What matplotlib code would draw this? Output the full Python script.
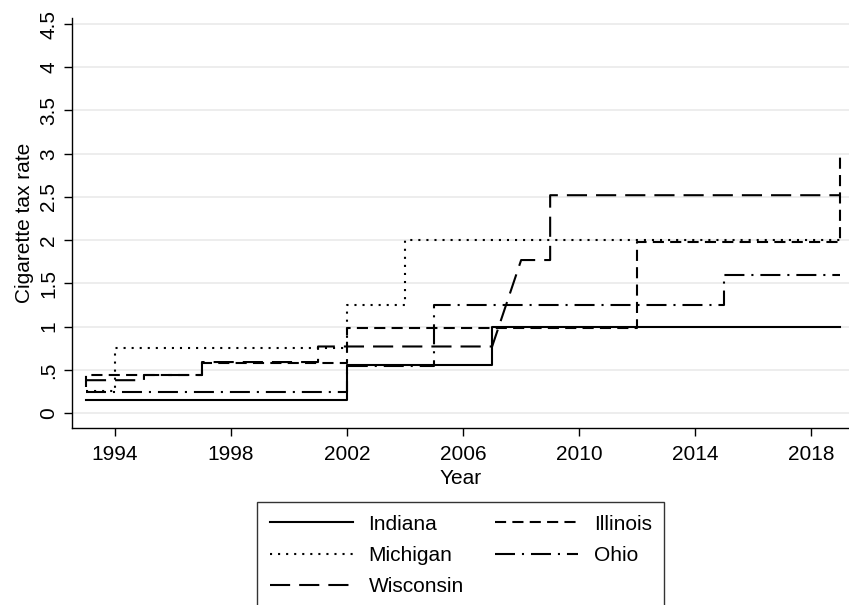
import matplotlib
matplotlib.use('Agg')
import matplotlib.pyplot as plt

plt.rcParams['font.family'] = ['Liberation Sans', 'DejaVu Sans']
plt.rcParams['lines.scale_dashes'] = False

# step series: (year, rate) points, duplicated years where the rate jumps
indiana_x = [1993, 2002, 2002, 2007, 2007, 2019]
indiana_y = [0.155, 0.155, 0.555, 0.555, 0.995, 0.995]

michigan_x = [1993, 1994, 1994, 2002, 2002, 2004, 2004, 2019]
michigan_y = [0.25, 0.25, 0.75, 0.75, 1.25, 1.25, 2.00, 2.00]

wisconsin_x = [1993, 1995, 1995, 1997, 1997, 2001, 2001, 2007, 2008, 2009, 2009, 2019]
wisconsin_y = [0.38, 0.38, 0.44, 0.44, 0.59, 0.59, 0.77, 0.77, 1.77, 1.77, 2.52, 2.52]

illinois_x = [1993, 1993, 1997, 1997, 2002, 2002, 2012, 2012, 2019, 2019]
illinois_y = [0.30, 0.44, 0.44, 0.58, 0.58, 0.98, 0.98, 1.98, 1.98, 2.98]

ohio_x = [1993, 2002, 2002, 2005, 2005, 2015, 2015, 2019]
ohio_y = [0.24, 0.24, 0.55, 0.55, 1.25, 1.25, 1.60, 1.60]

yticks = [0, 0.5, 1, 1.5, 2, 2.5, 3, 3.5, 4, 4.5]
ytick_labels = ['0', '.5', '1', '1.5', '2', '2.5', '3', '3.5', '4', '4.5']
xticks = [1994, 1998, 2002, 2006, 2010, 2014, 2018]

fs = 15

fig = plt.figure(figsize=(8.49, 6.05), dpi=100)
ax = fig.add_axes([72 / 849, 1 - 428 / 605, (849 - 72) / 849, (428 - 18) / 605])

lw = 1.5
ax.plot(indiana_x, indiana_y, color='black', lw=lw, label='Indiana')
ax.plot(michigan_x, michigan_y, color='black', lw=lw, linestyle=(0, (1.5, 4.3)), label='Michigan')
ax.plot(wisconsin_x, wisconsin_y, color='black', lw=lw, linestyle=(0, (14.5, 6.5)), label='Wisconsin')
ax.plot(illinois_x, illinois_y, color='black', lw=lw, linestyle=(0, (8, 4.5)), label='Illinois')
ax.plot(ohio_x, ohio_y, color='black', lw=lw, linestyle=(0, (14.4, 5, 1.5, 5)), label='Ohio')

ax.set_xlim(1992.52, 2019.3)
ax.set_ylim(-0.173, 4.57)
ax.set_yticks(yticks)
ax.set_yticklabels(ytick_labels, rotation=90, va='center')
ax.set_xticks(xticks)
for yv in yticks:
    ax.axhline(yv, color='#eaeaea', lw=1.2, zorder=0)

ax.spines['top'].set_visible(False)
ax.spines['right'].set_visible(False)
ax.spines['left'].set_linewidth(1.0)
ax.spines['bottom'].set_linewidth(1.0)
ax.tick_params(axis='y', length=6, width=1.0, labelsize=fs, pad=4)
ax.tick_params(axis='x', length=6, width=1.0, labelsize=fs, pad=6.5)

ax.set_ylabel('Cigarette tax rate', fontsize=fs, labelpad=4)
ax.set_xlabel('Year', fontsize=fs, labelpad=3)

leg = fig.legend(loc='upper left', bbox_to_anchor=(257 / 849, 1 - 502 / 605), ncol=2,
                 fontsize=fs, frameon=True, fancybox=False, edgecolor='black',
                 handlelength=4.0, handletextpad=0.75, columnspacing=1.5,
                 labelspacing=0.6, borderpad=0.6, borderaxespad=0)
leg.get_frame().set_linewidth(1.0)

fig.savefig('out.png', dpi=100)
